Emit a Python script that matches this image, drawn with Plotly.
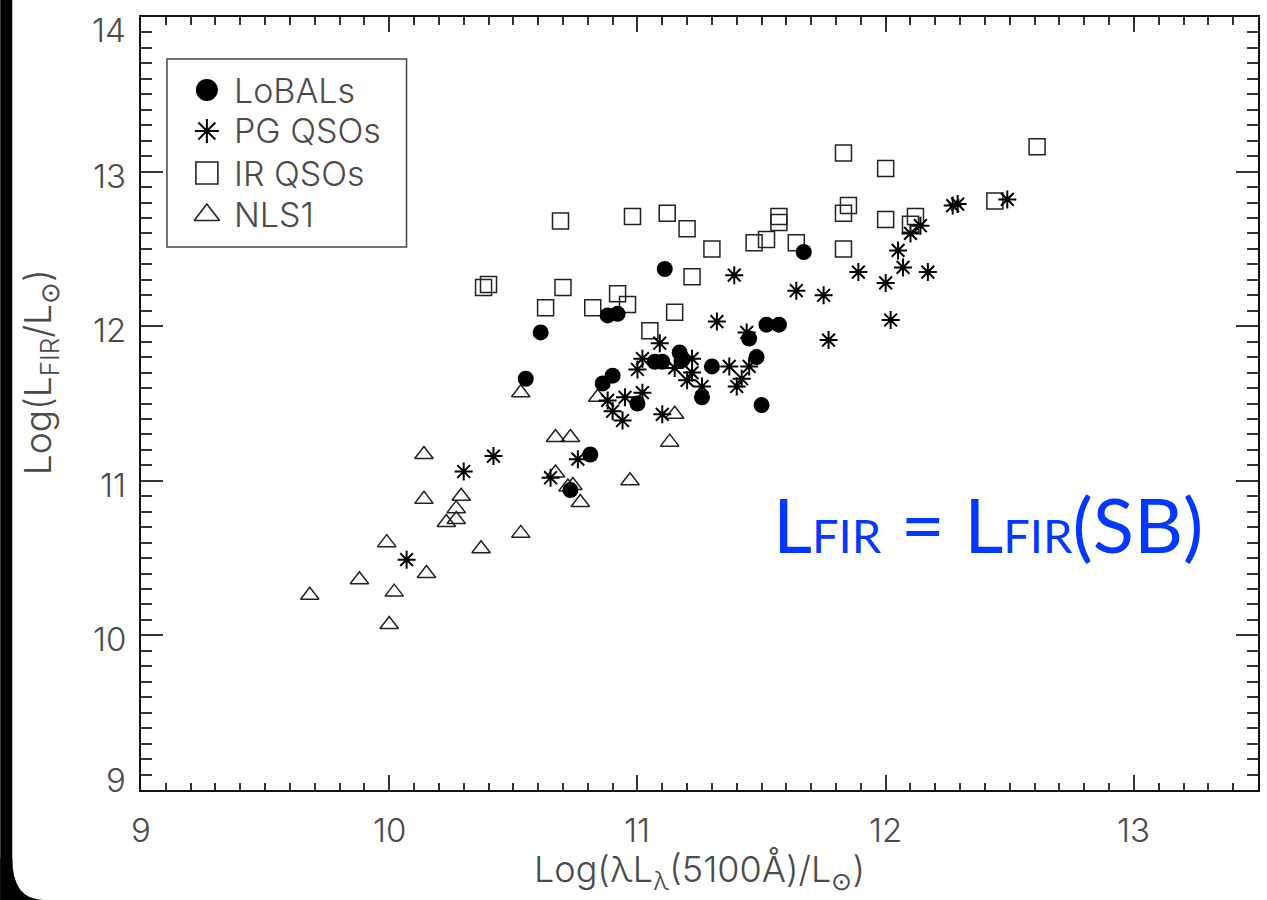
import plotly.graph_objects as go

# ---------------- data ----------------
# LoBALs
lobal_x = [10.55, 10.61, 10.73, 10.81, 10.86, 10.90, 10.88, 10.92, 11.00, 11.07, 11.10,
           11.11, 11.17, 11.18, 11.26, 11.30, 11.45, 11.48, 11.50, 11.52, 11.57, 11.67]
lobal_y = [11.66, 11.96, 10.94, 11.17, 11.63, 11.68, 12.07, 12.08, 11.50, 11.77, 11.77,
           12.37, 11.83, 11.78, 11.54, 11.74, 11.92, 11.80, 11.49, 12.01, 12.01, 12.48]

# PG QSOs
pg_x = [10.07, 10.30, 10.42, 10.65, 10.76, 10.88, 10.90, 10.95, 10.94, 11.00, 11.02, 11.02,
        11.09, 11.10, 11.15, 11.20, 11.22, 11.22, 11.26, 11.32, 11.37, 11.40, 11.42, 11.45,
        11.44, 11.39, 11.64, 11.75, 11.77, 11.89, 12.00, 12.02, 12.07, 12.05, 12.10, 12.14,
        12.17, 12.27, 12.29, 12.49]
pg_y = [10.49, 11.06, 11.16, 11.02, 11.14, 11.52, 11.45, 11.54, 11.39, 11.72, 11.79, 11.57,
        11.89, 11.43, 11.73, 11.65, 11.70, 11.79, 11.61, 12.03, 11.74, 11.61, 11.66, 11.74,
        11.96, 12.33, 12.23, 12.20, 11.91, 12.35, 12.28, 12.04, 12.38, 12.49, 12.60, 12.65,
        12.35, 12.78, 12.79, 12.82]

# IR QSOs
irq_x = [10.38, 10.40, 10.69, 10.63, 10.70, 10.82, 10.92, 10.96, 10.98, 11.05, 11.12, 11.15,
         11.20, 11.22, 11.30, 11.47, 11.52, 11.57, 11.57, 11.64, 11.83, 11.83, 11.85, 11.83,
         12.00, 12.00, 12.10, 12.12, 12.44, 12.61]
irq_y = [12.25, 12.27, 12.68, 12.12, 12.25, 12.12, 12.21, 12.14, 12.71, 11.97, 12.73, 12.09,
         12.63, 12.32, 12.50, 12.54, 12.56, 12.71, 12.67, 12.54, 13.12, 12.50, 12.78, 12.73,
         13.02, 12.69, 12.66, 12.71, 12.81, 13.16]

# NLS1
nls_x = [9.68, 9.88, 9.99, 10.02, 10.00, 10.14, 10.14, 10.15, 10.23, 10.27, 10.27, 10.29,
         10.37, 10.53, 10.53, 10.67, 10.67, 10.72, 10.74, 10.73, 10.77, 10.84, 10.97, 11.13, 11.15]
nls_y = [10.26, 10.36, 10.60, 10.28, 10.07, 11.17, 10.88, 10.40, 10.73, 10.75, 10.82, 10.90,
         10.56, 11.57, 10.66, 11.28, 11.05, 10.96, 10.97, 11.28, 10.86, 11.54, 11.00, 11.25, 11.43]

x_ticks = [9, 10, 11, 12, 13]
y_ticks = [9, 10, 11, 12, 13, 14]
series_names = ["LoBALs", "PG QSOs", "IR QSOs", "NLS1"]

# ---------------- layout geometry ----------------
W, H = 1267, 900
L, R, T, B = 141, 1260, 17, 790  # plot area edges in pixels


def px(xp):
    return (xp - L) / (R - L)


def py(yp):
    return (B - yp) / (B - T)


INK = "#222222"
TXT = "#4a4a4a"
FONT = "Inter, DejaVu Sans, sans-serif"

styles = {
    "LoBALs": dict(symbol="circle", size=16, color="#000000", line=dict(width=0)),
    "PG QSOs": dict(symbol="asterisk-open", size=15, color="#000000", line=dict(width=2, color="#000000")),
    "IR QSOs": dict(symbol="square-open", size=16, color=INK, line=dict(width=1.5, color=INK)),
    "NLS1": dict(symbol="triangle-up-open", size=16, color=INK, line=dict(width=1.5, color=INK)),
}

fig = go.Figure()
for name, xs, ys in [("NLS1", nls_x, nls_y), ("IR QSOs", irq_x, irq_y),
                     ("PG QSOs", pg_x, pg_y), ("LoBALs", lobal_x, lobal_y)]:
    fig.add_trace(go.Scatter(x=xs, y=ys, mode="markers", name=name,
                             marker=styles[name], showlegend=False))

# legend drawn in an overlay axis spanning the plot area (0..1 both ways)
leg_rows = [90, 131, 173, 215]
leg_sym = {"LoBALs": dict(symbol="circle", size=22, color="#000000", line=dict(width=0)),
           "PG QSOs": dict(symbol="asterisk-open", size=20, color="#000000", line=dict(width=2, color="#000000")),
           "IR QSOs": dict(symbol="square-open", size=22, color=INK, line=dict(width=1.6, color=INK)),
           "NLS1": dict(symbol="triangle-up-open", size=22, color=INK, line=dict(width=1.6, color=INK))}
for name, row in zip(series_names, leg_rows):
    fig.add_trace(go.Scatter(x=[px(207)], y=[py(row)], mode="markers", marker=leg_sym[name],
                             xaxis="x2", yaxis="y2", showlegend=False, cliponaxis=False,
                             hoverinfo="skip"))

annotations = []
for name, row in zip(series_names, leg_rows):
    annotations.append(dict(x=px(232), y=py(row), xref="paper", yref="paper", text=name,
                            showarrow=False, xanchor="left", yanchor="middle",
                            font=dict(family=FONT, size=34, color=TXT, weight=300)))

# tick labels
for v in x_ticks:
    annotations.append(dict(x=v, y=py(830), xref="x", yref="paper", text=str(v), showarrow=False,
                            xanchor="center", yanchor="middle",
                            font=dict(family=FONT, size=33, color=TXT, weight=300)))
y_shift = {9: 10, 14: -13}
for v in y_ticks:
    annotations.append(dict(x=px(128), y=v, xref="paper", yref="y", text=str(v), showarrow=False,
                            xanchor="right", yanchor="middle", yshift=y_shift.get(v, -4),
                            font=dict(family=FONT, size=33, color=TXT, weight=300)))

# axis titles
annotations.append(dict(x=px(700), y=py(871), xref="paper", yref="paper",
                        text="Log(λL<sub>λ</sub>(5100Å)/L<sub>⊙</sub>)", showarrow=False,
                        xanchor="center", yanchor="middle",
                        font=dict(family=FONT, size=36, color=TXT, weight=300)))
annotations.append(dict(x=px(40), y=py(372), xref="paper", yref="paper",
                        text="Log(L<sub>FIR</sub>/L<sub>⊙</sub>)", showarrow=False, textangle=-90,
                        xanchor="center", yanchor="middle",
                        font=dict(family=FONT, size=37, color=TXT, weight=300)))

# blue statement
annotations.append(dict(x=px(772), y=py(523), xref="paper", yref="paper",
                        text="L<span style='font-size:47px'>FIR</span> = L<span style='font-size:47px'>FIR</span>(SB)",
                        showarrow=False, xanchor="left", yanchor="middle",
                        font=dict(family="Lato, Noto Sans, sans-serif", size=76, color="#0538FF")))

shapes = [
    # legend frame
    dict(type="rect", xref="paper", yref="paper", x0=px(167), x1=px(407), y0=py(59), y1=py(247),
         line=dict(color="#444444", width=1.5), fillcolor="rgba(0,0,0,0)"),
    # dark slide edge on the left with rounded lower corner
    dict(type="rect", xref="paper", yref="paper", x0=px(0), x1=px(12), y0=py(0), y1=py(900),
         line=dict(width=0), fillcolor="#000000"),
    dict(type="path", xref="paper", yref="paper",
         path=f"M {px(0)},{py(858)} L {px(12)},{py(858)} Q {px(12)},{py(900)} {px(44)},{py(900)} L {px(0)},{py(900)} Z",
         line=dict(width=0), fillcolor="#000000"),
]

axis_common = dict(showgrid=False, zeroline=False, showline=True, linecolor="#111111", linewidth=2,
                   mirror="allticks", ticks="inside", tickcolor="#333333", tickwidth=1.5,
                   showticklabels=False)

fig.update_layout(
    width=W, height=H,
    margin=dict(l=L, r=W - R, t=T, b=H - B),
    paper_bgcolor="white", plot_bgcolor="white",
    showlegend=False,
    xaxis=dict(range=[9, 13.5], tickvals=x_ticks, ticklen=15,
               minor=dict(dtick=0.1, tick0=9, ticklen=7.5, tickwidth=1.5, tickcolor="#333333", ticks="inside"),
               **axis_common),
    yaxis=dict(range=[9, 14], tickvals=y_ticks, ticklen=22,
               minor=dict(dtick=0.1, tick0=9, ticklen=11, tickwidth=1.5, tickcolor="#333333", ticks="inside"),
               **axis_common),
    xaxis2=dict(range=[0, 1], overlaying="x", visible=False, fixedrange=True),
    yaxis2=dict(range=[0, 1], overlaying="y", visible=False, fixedrange=True),
    annotations=annotations,
    shapes=shapes,
)

fig.write_html("out.html")
